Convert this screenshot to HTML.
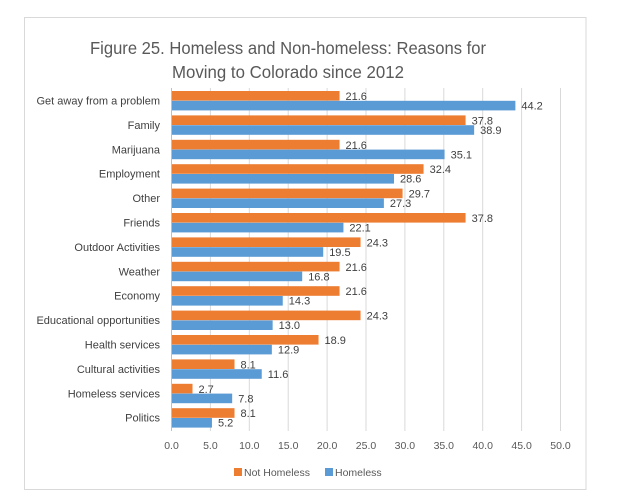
<!DOCTYPE html>
<html><head><meta charset="utf-8"><style>
html,body{margin:0;padding:0;background:#fff;}
svg{display:block;font-family:"Liberation Sans",sans-serif;}
</style></head><body>
<svg width="619" height="501" viewBox="0 0 619 501" xmlns="http://www.w3.org/2000/svg">
<rect x="0" y="0" width="619" height="501" fill="#fff"/>
<rect x="24.5" y="17.5" width="561.5" height="472" fill="#fff" stroke="#d9d9d9" stroke-width="1"/>
<text x="288" y="54" text-anchor="middle" font-size="17.5" fill="#595959" textLength="396" lengthAdjust="spacingAndGlyphs">Figure 25. Homeless and Non-homeless: Reasons for</text>
<text x="288" y="78" text-anchor="middle" font-size="17.5" fill="#595959" textLength="232" lengthAdjust="spacingAndGlyphs">Moving to Colorado since 2012</text>
<g stroke="#d9d9d9" stroke-width="1">
<line x1="210.4" y1="88" x2="210.4" y2="431"/><line x1="249.3" y1="88" x2="249.3" y2="431"/>
<line x1="288.2" y1="88" x2="288.2" y2="431"/><line x1="327.1" y1="88" x2="327.1" y2="431"/>
<line x1="366" y1="88" x2="366" y2="431"/><line x1="404.9" y1="88" x2="404.9" y2="431"/>
<line x1="443.8" y1="88" x2="443.8" y2="431"/><line x1="482.7" y1="88" x2="482.7" y2="431"/>
<line x1="521.6" y1="88" x2="521.6" y2="431"/><line x1="560.5" y1="88" x2="560.5" y2="431"/>
</g>
<g fill="#ED7D31">
<rect x="171.5" y="91" width="168.05" height="9.6"/>
<rect x="171.5" y="115.4" width="294.08" height="9.6"/>
<rect x="171.5" y="139.8" width="168.05" height="9.6"/>
<rect x="171.5" y="164.2" width="252.07" height="9.6"/>
<rect x="171.5" y="188.6" width="231.07" height="9.6"/>
<rect x="171.5" y="213" width="294.08" height="9.6"/>
<rect x="171.5" y="237.4" width="189.05" height="9.6"/>
<rect x="171.5" y="261.8" width="168.05" height="9.6"/>
<rect x="171.5" y="286.2" width="168.05" height="9.6"/>
<rect x="171.5" y="310.6" width="189.05" height="9.6"/>
<rect x="171.5" y="335" width="147.04" height="9.6"/>
<rect x="171.5" y="359.4" width="63.02" height="9.6"/>
<rect x="171.5" y="383.8" width="21.01" height="9.6"/>
<rect x="171.5" y="408.2" width="63.02" height="9.6"/>
</g>
<g fill="#5B9BD5">
<rect x="171.5" y="100.8" width="343.88" height="9.6"/>
<rect x="171.5" y="125.2" width="302.64" height="9.6"/>
<rect x="171.5" y="149.6" width="273.08" height="9.6"/>
<rect x="171.5" y="174" width="222.51" height="9.6"/>
<rect x="171.5" y="198.4" width="212.39" height="9.6"/>
<rect x="171.5" y="222.8" width="171.94" height="9.6"/>
<rect x="171.5" y="247.2" width="151.71" height="9.6"/>
<rect x="171.5" y="271.6" width="130.7" height="9.6"/>
<rect x="171.5" y="296" width="111.25" height="9.6"/>
<rect x="171.5" y="320.4" width="101.14" height="9.6"/>
<rect x="171.5" y="344.8" width="100.36" height="9.6"/>
<rect x="171.5" y="369.2" width="90.25" height="9.6"/>
<rect x="171.5" y="393.6" width="60.68" height="9.6"/>
<rect x="171.5" y="418" width="40.46" height="9.6"/>
</g>
<line x1="171.5" y1="88" x2="171.5" y2="431" stroke="#bfbfbf"/>
<g font-size="11" fill="#404040" text-anchor="end">
<text x="160" y="104.5">Get away from a problem</text>
<text x="160" y="128.9">Family</text>
<text x="160" y="153.3">Marijuana</text>
<text x="160" y="177.7">Employment</text>
<text x="160" y="202.1">Other</text>
<text x="160" y="226.5">Friends</text>
<text x="160" y="250.9">Outdoor Activities</text>
<text x="160" y="275.3">Weather</text>
<text x="160" y="299.7">Economy</text>
<text x="160" y="324.1">Educational opportunities</text>
<text x="160" y="348.5">Health services</text>
<text x="160" y="372.9">Cultural activities</text>
<text x="160" y="397.3">Homeless services</text>
<text x="160" y="421.7">Politics</text>
</g>
<g font-size="11" fill="#404040">
<text x="345.5" y="100">21.6</text><text x="521.4" y="109.5">44.2</text>
<text x="471.6" y="124.4">37.8</text><text x="480.1" y="133.9">38.9</text>
<text x="345.5" y="148.8">21.6</text><text x="450.6" y="158.3">35.1</text>
<text x="429.6" y="173.2">32.4</text><text x="400" y="182.7">28.6</text>
<text x="408.6" y="197.6">29.7</text><text x="389.9" y="207.1">27.3</text>
<text x="471.6" y="222">37.8</text><text x="349.4" y="231.5">22.1</text>
<text x="366.6" y="246.4">24.3</text><text x="329.2" y="255.9">19.5</text>
<text x="345.5" y="270.8">21.6</text><text x="308.2" y="280.3">16.8</text>
<text x="345.5" y="295.2">21.6</text><text x="288.8" y="304.7">14.3</text>
<text x="366.6" y="319.6">24.3</text><text x="278.6" y="329.1">13.0</text>
<text x="324.5" y="344">18.9</text><text x="277.9" y="353.5">12.9</text>
<text x="240.5" y="368.4">8.1</text><text x="267.8" y="377.9">11.6</text>
<text x="198.5" y="392.8">2.7</text><text x="238.2" y="402.3">7.8</text>
<text x="240.5" y="417.2">8.1</text><text x="218" y="426.7">5.2</text>
</g>
<g font-size="10.5" fill="#595959" text-anchor="middle">
<text x="171.5" y="449">0.0</text><text x="210.4" y="449">5.0</text><text x="249.3" y="449">10.0</text>
<text x="288.2" y="449">15.0</text><text x="327.1" y="449">20.0</text><text x="366" y="449">25.0</text>
<text x="404.9" y="449">30.0</text><text x="443.8" y="449">35.0</text><text x="482.7" y="449">40.0</text>
<text x="521.6" y="449">45.0</text><text x="560.5" y="449">50.0</text>
</g>
<rect x="234" y="468" width="8" height="8" fill="#ED7D31"/>
<text x="244" y="476" font-size="10.5" fill="#595959">Not Homeless</text>
<rect x="325" y="468" width="8" height="8" fill="#5B9BD5"/>
<text x="335" y="476" font-size="10.5" fill="#595959">Homeless</text>
</svg>
</body></html>
